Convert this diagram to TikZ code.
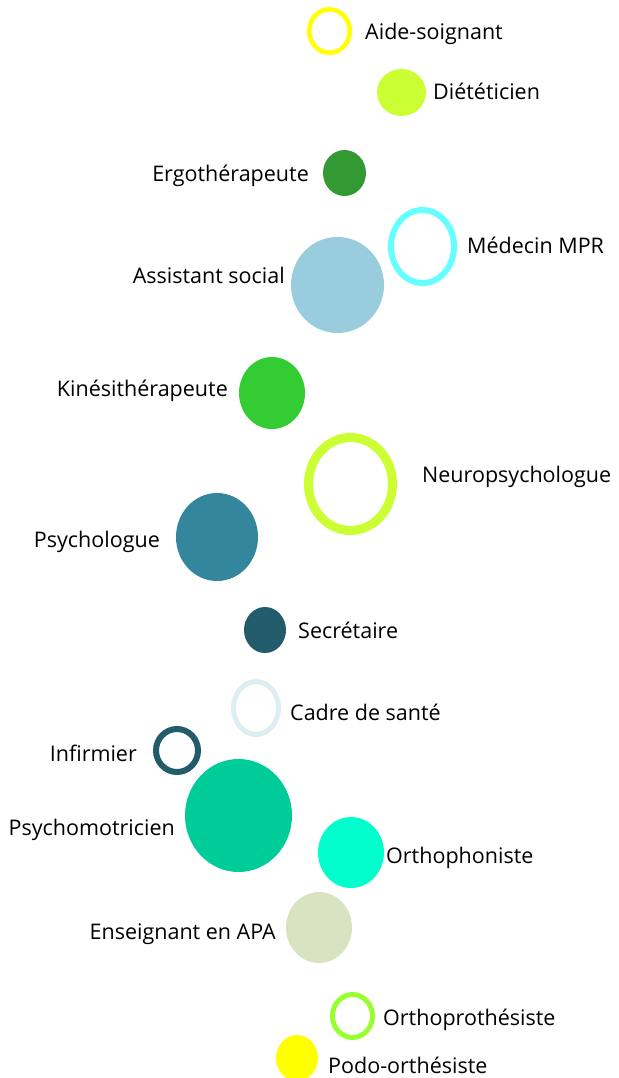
\documentclass[tikz,border=0pt]{standalone}
\usepackage{fontspec}
\setmainfont{Open Sans}
\usetikzlibrary{shapes.geometric}

\definecolor{jaune}{HTML}{FFFF00}
\definecolor{citron}{HTML}{CCFF33}
\definecolor{vertfonce}{HTML}{339933}
\definecolor{cyan}{HTML}{66FFFF}
\definecolor{bleuclair}{HTML}{99CCDD}
\definecolor{vert}{HTML}{33CC33}
\definecolor{bleupetrole}{HTML}{33869C}
\definecolor{bleunuit}{HTML}{225B69}
\definecolor{givre}{HTML}{DDEEF3}
\definecolor{emeraude}{HTML}{00CC99}
\definecolor{turquoise}{HTML}{00FFCC}
\definecolor{sauge}{HTML}{D9E3C1}
\definecolor{anis}{HTML}{99FF33}

\begin{document}
\begin{tikzpicture}[x=1pt,y=-1pt]
    \useasboundingbox (0,0) rectangle (618,1078);
    \begin{scope}[every node/.style={ellipse,inner sep=0pt,outer sep=0pt}]
        \node[draw=jaune, line width=4.5pt, minimum width=40.5pt, minimum height=43.5pt] (aide) at (329.5,31) {};
        \node[fill=citron, minimum width=49pt, minimum height=47pt] (diet) at (401.5,92.5) {};
        \node[fill=vertfonce, minimum width=43pt, minimum height=46pt] (ergo) at (344.5,173) {};
        \node[draw=cyan, line width=6pt, minimum width=63pt, minimum height=73pt] (mpr) at (422.5,246.5) {};
        \node[fill=bleuclair, minimum width=93pt, minimum height=96pt] (as) at (337.5,285) {};
        \node[fill=vert, minimum width=66pt, minimum height=72pt] (kine) at (272,393) {};
        \node[draw=citron, line width=9pt, minimum width=84pt, minimum height=93pt] (neuro) at (350.5,484) {};
        \node[fill=bleupetrole, minimum width=82pt, minimum height=88pt] (psy) at (217,537) {};
        \node[fill=bleunuit, minimum width=42pt, minimum height=46pt] (secr) at (265,630) {};
        \node[draw=givre, line width=5pt, minimum width=45pt, minimum height=53pt] (cadre) at (256,708) {};
        \node[draw=bleunuit, line width=6pt, minimum width=42pt, minimum height=43pt] (inf) at (177,750.5) {};
        \node[fill=emeraude, minimum width=107pt, minimum height=113pt] (psymot) at (238.5,815.5) {};
        \node[fill=turquoise, minimum width=66pt, minimum height=71pt] (ortho) at (351,852.5) {};
        \node[fill=sauge, minimum width=66pt, minimum height=71pt] (apa) at (319,927.5) {};
        \node[draw=anis, line width=5pt, minimum width=40pt, minimum height=43pt] (orthopro) at (352.5,1016) {};
        \node[fill=jaune, minimum width=42pt, minimum height=46pt] (podo) at (297,1058) {};
    \end{scope}

    \begin{scope}[every node/.style={inner sep=0pt, font=\fontsize{21.5}{24}\selectfont}]
        \node[anchor=base west] (aideL) at (365,40) {Aide-soignant};
        \node[anchor=base west] (dietL) at (433,100) {Diététicien};
        \node[anchor=base east] (ergoL) at (309,182) {Ergothérapeute};
        \node[anchor=base west] (mprL) at (467,253) {Médecin MPR};
        \node[anchor=base east] (asL) at (285,283) {Assistant social};
        \node[anchor=base east] (kineL) at (228,396) {Kinésithérapeute};
        \node[anchor=base west] (neuroL) at (422,482) {Neuropsychologue};
        \node[anchor=base east] (psyL) at (160,547) {Psychologue};
        \node[anchor=base west] (secrL) at (298,638) {Secrétaire};
        \node[anchor=base west] (cadreL) at (290,720) {Cadre de santé};
        \node[anchor=base east] (infL) at (137,761) {Infirmier};
        \node[anchor=base east] (psymotL) at (175,835) {Psychomotricien};
        \node[anchor=base west] (orthoL) at (386,863) {Orthophoniste};
        \node[anchor=base east] (apaL) at (276,939) {Enseignant en APA};
        \node[anchor=base west] (orthoproL) at (383,1025) {Orthoprothésiste};
        \node[anchor=base west] (podoL) at (328,1073) {Podo-orthésiste};
    \end{scope}
\end{tikzpicture}
\end{document}
